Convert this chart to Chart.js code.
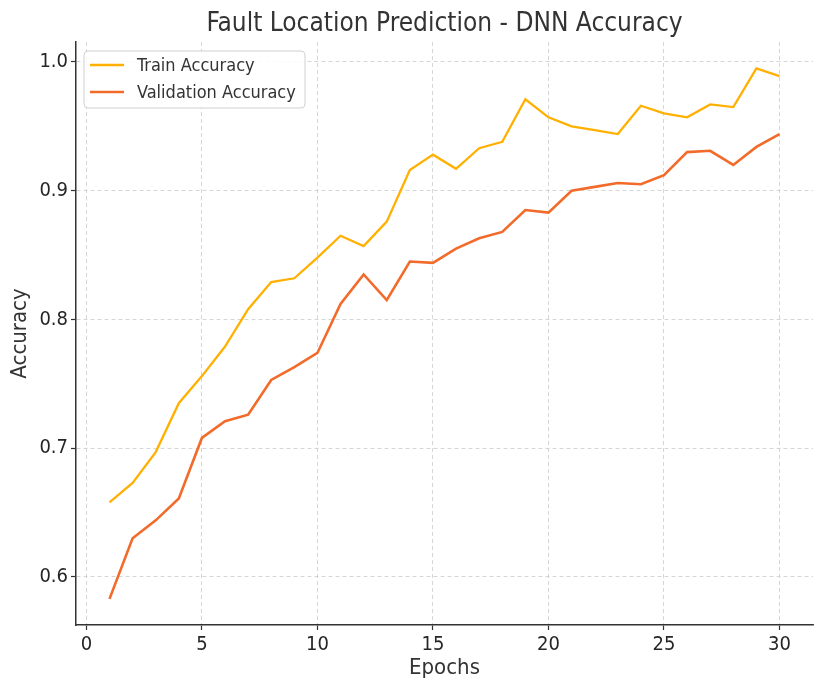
<!DOCTYPE html>
<html>
<head>
<meta charset="utf-8">
<script src="https://cdn.jsdelivr.net/npm/chart.js@4.4.1/dist/chart.umd.min.js"></script>
<style>
  html, body { margin: 0; padding: 0; background: #fff; }
  #wrap { width: 825px; height: 692px; }
</style>
</head>
<body>
<div id="wrap"><canvas id="accChart" width="825" height="692"></canvas></div>
<script>
// Epochs and accuracy values
const epochs = [1, 2, 3, 4, 5, 6, 7, 8, 9, 10, 11, 12, 13, 14, 15, 16, 17, 18, 19, 20, 21, 22, 23, 24, 25, 26, 27, 28, 29, 30];
const trainAcc = [0.658, 0.673, 0.697, 0.735, 0.756, 0.779, 0.808, 0.829, 0.832, 0.848, 0.865, 0.857, 0.876, 0.916, 0.928,
                  0.917, 0.933, 0.938, 0.971, 0.957, 0.950, 0.947, 0.944, 0.966, 0.960, 0.957, 0.967, 0.965, 0.995, 0.989];
const valAcc = [0.583, 0.630, 0.644, 0.661, 0.708, 0.721, 0.726, 0.753, 0.763, 0.774, 0.812, 0.835, 0.815, 0.845, 0.844,
                0.855, 0.863, 0.868, 0.885, 0.883, 0.900, 0.903, 0.906, 0.905, 0.912, 0.930, 0.931, 0.920, 0.934, 0.944];
const xTicks = [0, 5, 10, 15, 20, 25, 30];
const yTicks = [0.6, 0.7, 0.8, 0.9, 1.0];

const FONT = "'DejaVu Sans Condensed', 'DejaVu Sans', sans-serif";
const TITLE = 'Fault Location Prediction - DNN Accuracy';

// Draw the title centred over the plot area, and the legend box inside it
const decorPlugin = {
    id: 'decor',
    afterDraw(chart) {
        const ctx = chart.ctx;
        const area = chart.chartArea;
        ctx.save();
        ctx.fillStyle = '#333';
        ctx.font = '26px ' + FONT;
        ctx.textAlign = 'center';
        ctx.textBaseline = 'middle';
        ctx.fillText(TITLE, (area.left + area.right) / 2, 24);

        // legend
        const x = area.left + 8, y = area.top + 9, w = 221, h = 57;
        ctx.beginPath();
        ctx.roundRect(x, y, w, h, 4);
        ctx.fillStyle = 'rgba(255,255,255,0.85)';
        ctx.fill();
        ctx.strokeStyle = '#d0d0d0';
        ctx.lineWidth = 1;
        ctx.stroke();
        ctx.font = '18px ' + FONT;
        ctx.textAlign = 'left';
        chart.data.datasets.forEach((ds, i) => {
            const cy = y + 14 + i * 27;
            ctx.beginPath();
            ctx.moveTo(x + 6, cy);
            ctx.lineTo(x + 40, cy);
            ctx.strokeStyle = ds.borderColor;
            ctx.lineWidth = ds.borderWidth;
            ctx.stroke();
            ctx.fillStyle = '#333';
            ctx.fillText(ds.label, x + 53, cy + 1);
        });
        ctx.restore();
    }
};

function gridOpts() {
    return {
        color: '#cccccc',
        lineWidth: 0.8,
        drawTicks: true,
        tickLength: 5,
        tickColor: '#333',
        tickWidth: 1.2,
        tickBorderDash: []
    };
}

function initAccuracyChart() {
    const ctx = document.getElementById('accChart').getContext('2d');
    return new Chart(ctx, {
        type: 'line',
        data: {
            datasets: [{
                label: 'Train Accuracy',
                data: epochs.map((e, i) => ({ x: e, y: trainAcc[i] })),
                borderColor: '#ffb000',
                borderWidth: 2.3,
                pointRadius: 0,
                tension: 0
            }, {
                label: 'Validation Accuracy',
                data: epochs.map((e, i) => ({ x: e, y: valAcc[i] })),
                borderColor: '#f26b2a',
                borderWidth: 2.6,
                pointRadius: 0,
                tension: 0
            }]
        },
        options: {
            responsive: false,
            animation: false,
            layout: { padding: { top: 42, right: 12, left: 0, bottom: 0 } },
            plugins: {
                legend: { display: false },
                title: { display: false },
                tooltip: { enabled: false }
            },
            scales: {
                x: {
                    type: 'linear',
                    min: -0.45,
                    max: 31.45,
                    afterBuildTicks: (scale) => { scale.ticks = xTicks.map(v => ({ value: v })); },
                    afterFit: (scale) => { scale.height = 67; },
                    grid: gridOpts(),
                    border: { display: true, color: '#333', width: 1.5, dash: [4, 3] },
                    ticks: {
                        color: '#262626',
                        font: { family: FONT, size: 20 },
                        padding: 3,
                        maxRotation: 0,
                        callback: (v) => String(v)
                    },
                    title: {
                        display: true,
                        text: 'Epochs',
                        color: '#333',
                        font: { family: FONT, size: 22 },
                        padding: { top: 0, bottom: 11 }
                    }
                },
                y: {
                    min: 0.5627,
                    max: 1.0155,
                    afterBuildTicks: (scale) => { scale.ticks = yTicks.map(v => ({ value: v })); },
                    afterFit: (scale) => { scale.width = 76; },
                    grid: gridOpts(),
                    border: { display: true, color: '#333', width: 1.5, dash: [4, 3] },
                    ticks: {
                        color: '#262626',
                        font: { family: FONT, size: 20 },
                        padding: 3,
                        callback: (v) => v.toFixed(1)
                    },
                    title: {
                        display: true,
                        text: 'Accuracy',
                        color: '#333',
                        font: { family: FONT, size: 22 },
                        padding: { top: 7, bottom: 0 }
                    }
                }
            }
        },
        plugins: [decorPlugin]
    });
}

document.addEventListener('DOMContentLoaded', () => {
    initAccuracyChart();
});
</script>
</body>
</html>
